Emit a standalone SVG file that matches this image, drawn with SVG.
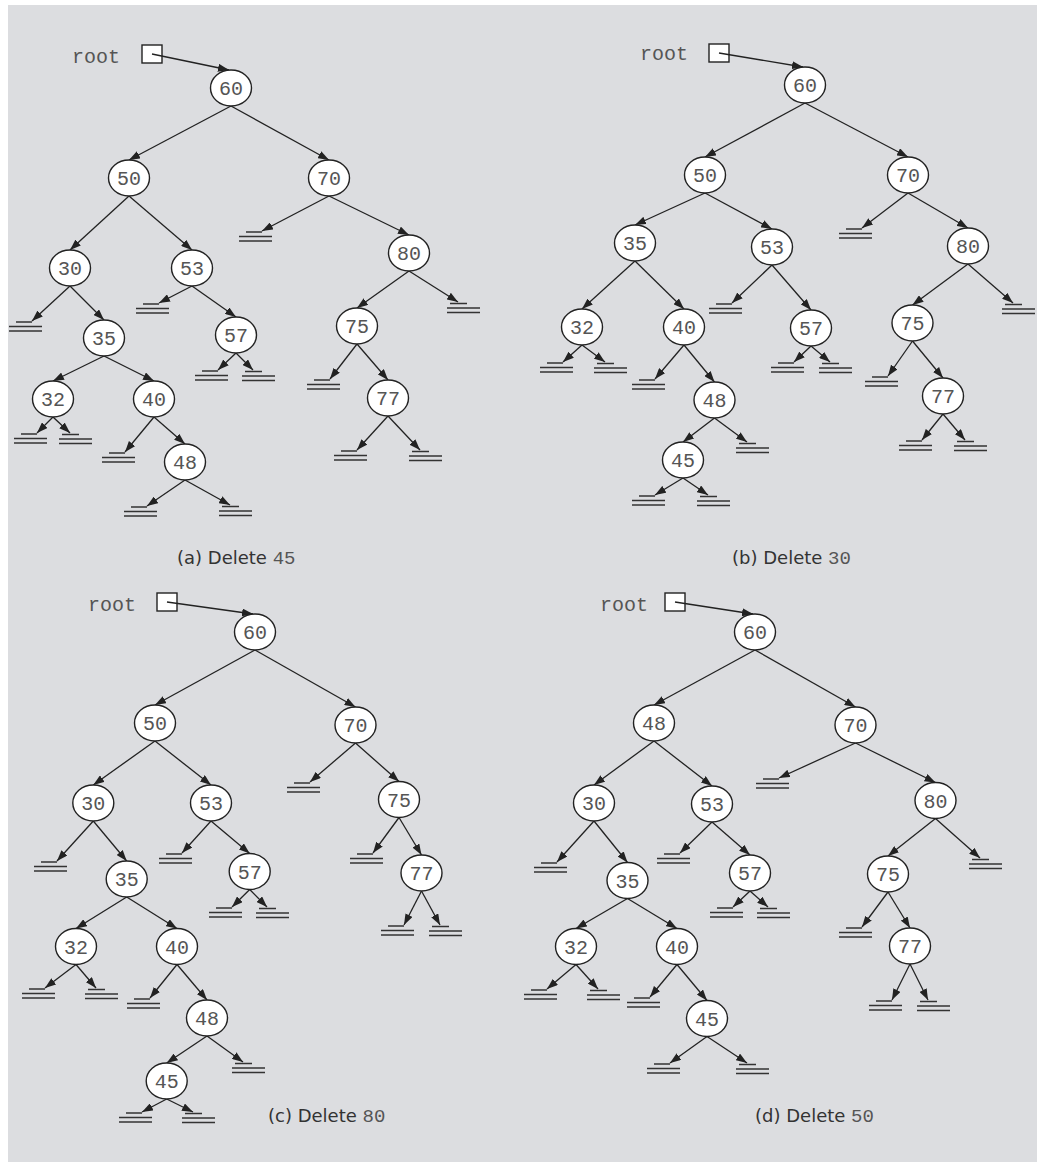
<svg xmlns="http://www.w3.org/2000/svg" xmlns:xlink="http://www.w3.org/1999/xlink" width="1037" height="1169" viewBox="0 0 1037 1169">
<style>
.n{fill:#fff;stroke:#222;stroke-width:1.4}
.t{font-family:"Liberation Mono",monospace;font-size:20px;fill:#555;text-anchor:middle}
.r{font-family:"Liberation Mono",monospace;font-size:20px;fill:#555}
.e line{stroke:#222;stroke-width:1.3;marker-end:url(#ah)}
.gd{fill:none;stroke:#333;stroke-width:1.6}
.bx{fill:#fff;stroke:#222;stroke-width:1.4}
.cap{font-family:"DejaVu Sans","Liberation Sans",sans-serif;font-size:18px;fill:#333}
.cm{font-family:"Liberation Mono",monospace;font-size:19px;fill:#555}
</style>
<defs>
<marker id="ah" markerUnits="userSpaceOnUse" markerWidth="11" markerHeight="8" refX="11" refY="4" orient="auto"><path d="M0,0L11,4L0,8z" fill="#222"/></marker>
<path id="gl" class="gd" d="M-16,1H0M-23,5.5H10M-23,10H10"/>
<path id="gr" class="gd" d="M-8,1.5H9M-11,6H22M-11,10.5H22"/>
</defs>
<rect x="0" y="0" width="1037" height="1169" fill="#fff"/>
<rect x="8" y="5" width="1029" height="1157" fill="#dcdde0"/>

<g id="roots">
<text class="r" x="72" y="63">root</text><rect class="bx" x="142" y="45" width="20" height="18"/>
<text class="r" x="640" y="60">root</text><rect class="bx" x="709" y="44" width="20" height="18"/>
<text class="r" x="88" y="611">root</text><rect class="bx" x="157" y="593" width="20" height="18"/>
<text class="r" x="600" y="611">root</text><rect class="bx" x="665" y="593" width="20" height="18"/>
</g>

<g id="connectors" class="e">
<!-- tree a -->
<line x1="152" y1="54" x2="229" y2="70"/>
<line x1="231" y1="106" x2="129" y2="160"/>
<line x1="231" y1="106" x2="329" y2="160"/>
<line x1="129" y1="196" x2="70" y2="250"/>
<line x1="129" y1="196" x2="192" y2="250"/>
<line x1="329" y1="196" x2="262" y2="231"/>
<line x1="329" y1="196" x2="409" y2="235"/>
<line x1="70" y1="286" x2="32" y2="321"/>
<line x1="70" y1="286" x2="104" y2="320"/>
<line x1="192" y1="286" x2="159" y2="303"/>
<line x1="192" y1="286" x2="236" y2="317"/>
<line x1="409" y1="271" x2="357" y2="308"/>
<line x1="409" y1="271" x2="458" y2="302"/>
<line x1="104" y1="356" x2="53" y2="381"/>
<line x1="104" y1="356" x2="154" y2="381"/>
<line x1="236" y1="353" x2="218" y2="370"/>
<line x1="236" y1="353" x2="253" y2="370"/>
<line x1="357" y1="344" x2="330" y2="379"/>
<line x1="357" y1="344" x2="388" y2="380"/>
<line x1="53" y1="417" x2="37" y2="433"/>
<line x1="53" y1="417" x2="70" y2="433"/>
<line x1="154" y1="417" x2="125" y2="452"/>
<line x1="154" y1="417" x2="185" y2="444"/>
<line x1="388" y1="416" x2="357" y2="450"/>
<line x1="388" y1="416" x2="420" y2="450"/>
<line x1="185" y1="480" x2="147" y2="506"/>
<line x1="185" y1="480" x2="230" y2="505"/>
<!-- tree b -->
<line x1="719" y1="53" x2="803" y2="67"/>
<line x1="805" y1="103" x2="705" y2="157"/>
<line x1="805" y1="103" x2="908" y2="157"/>
<line x1="705" y1="193" x2="635" y2="225"/>
<line x1="705" y1="193" x2="772" y2="229"/>
<line x1="908" y1="193" x2="862" y2="228"/>
<line x1="908" y1="193" x2="968" y2="228"/>
<line x1="635" y1="261" x2="582" y2="309"/>
<line x1="635" y1="261" x2="684" y2="309"/>
<line x1="772" y1="265" x2="732" y2="303"/>
<line x1="772" y1="265" x2="811" y2="310"/>
<line x1="968" y1="264" x2="912.5" y2="305"/>
<line x1="968" y1="264" x2="1013" y2="303"/>
<line x1="582" y1="345" x2="563" y2="362"/>
<line x1="582" y1="345" x2="605" y2="362"/>
<line x1="684" y1="345" x2="655" y2="379"/>
<line x1="684" y1="345" x2="714.5" y2="382"/>
<line x1="811" y1="346" x2="794" y2="362"/>
<line x1="811" y1="346" x2="830" y2="362"/>
<line x1="912.5" y1="341" x2="888" y2="376"/>
<line x1="912.5" y1="341" x2="943" y2="378"/>
<line x1="714.5" y1="418" x2="683" y2="442"/>
<line x1="714.5" y1="418" x2="747" y2="442"/>
<line x1="943" y1="414" x2="922" y2="440"/>
<line x1="943" y1="414" x2="965" y2="440"/>
<line x1="683" y1="478" x2="655" y2="495"/>
<line x1="683" y1="478" x2="708" y2="495"/>
<!-- tree c -->
<line x1="167" y1="602" x2="253" y2="614"/>
<line x1="255" y1="650" x2="155" y2="705"/>
<line x1="255" y1="650" x2="355.5" y2="707"/>
<line x1="155" y1="741" x2="93.3" y2="785"/>
<line x1="155" y1="741" x2="211" y2="785"/>
<line x1="355.5" y1="743" x2="310" y2="782"/>
<line x1="355.5" y1="743" x2="399" y2="781.5"/>
<line x1="93.3" y1="821" x2="57" y2="861"/>
<line x1="93.3" y1="821" x2="126.7" y2="861"/>
<line x1="211" y1="821" x2="182" y2="853"/>
<line x1="211" y1="821" x2="249.7" y2="853.5"/>
<line x1="399" y1="817.5" x2="373" y2="853"/>
<line x1="399" y1="817.5" x2="421.5" y2="855"/>
<line x1="126.7" y1="897" x2="76" y2="928.5"/>
<line x1="126.7" y1="897" x2="177" y2="928.5"/>
<line x1="249.7" y1="889.5" x2="232" y2="907"/>
<line x1="249.7" y1="889.5" x2="267" y2="907"/>
<line x1="421.5" y1="891" x2="404" y2="925"/>
<line x1="421.5" y1="891" x2="440" y2="925"/>
<line x1="76" y1="964.5" x2="45" y2="988"/>
<line x1="76" y1="964.5" x2="96" y2="988"/>
<line x1="177" y1="964.5" x2="150" y2="998"/>
<line x1="177" y1="964.5" x2="207" y2="1000"/>
<line x1="207" y1="1036" x2="166.7" y2="1063"/>
<line x1="207" y1="1036" x2="243" y2="1062"/>
<line x1="166.7" y1="1099" x2="142" y2="1112"/>
<line x1="166.7" y1="1099" x2="193" y2="1112"/>
<!-- tree d -->
<line x1="675" y1="602" x2="753" y2="614"/>
<line x1="755" y1="650" x2="654" y2="705"/>
<line x1="755" y1="650" x2="855.5" y2="707"/>
<line x1="654" y1="741" x2="594" y2="785"/>
<line x1="654" y1="741" x2="712" y2="786"/>
<line x1="855.5" y1="743" x2="779" y2="778"/>
<line x1="855.5" y1="743" x2="935.5" y2="782.5"/>
<line x1="594" y1="821" x2="557" y2="862"/>
<line x1="594" y1="821" x2="627.5" y2="862.5"/>
<line x1="712" y1="822" x2="680" y2="853"/>
<line x1="712" y1="822" x2="750" y2="855"/>
<line x1="935.5" y1="818.5" x2="888" y2="856"/>
<line x1="935.5" y1="818.5" x2="980" y2="858"/>
<line x1="627.5" y1="898.5" x2="576" y2="928.5"/>
<line x1="627.5" y1="898.5" x2="677" y2="928.5"/>
<line x1="750" y1="891" x2="733" y2="907"/>
<line x1="750" y1="891" x2="768" y2="907"/>
<line x1="888" y1="892" x2="862" y2="927"/>
<line x1="888" y1="892" x2="910" y2="928"/>
<line x1="576" y1="964.5" x2="547" y2="989"/>
<line x1="576" y1="964.5" x2="598" y2="989"/>
<line x1="677" y1="964.5" x2="650" y2="997"/>
<line x1="677" y1="964.5" x2="707" y2="1000.5"/>
<line x1="910" y1="964" x2="892" y2="1000"/>
<line x1="910" y1="964" x2="928" y2="1000"/>
<line x1="707" y1="1036.5" x2="670" y2="1063"/>
<line x1="707" y1="1036.5" x2="747" y2="1063"/>
</g>

<g id="grounds">
<use xlink:href="#gl" x="32" y="321"/><use xlink:href="#gl" x="159" y="303"/><use xlink:href="#gl" x="262" y="231"/><use xlink:href="#gr" x="458" y="302"/>
<use xlink:href="#gl" x="218" y="370"/><use xlink:href="#gr" x="253" y="370"/><use xlink:href="#gl" x="330" y="379"/>
<use xlink:href="#gl" x="37" y="433"/><use xlink:href="#gr" x="70" y="433"/><use xlink:href="#gl" x="125" y="452"/>
<use xlink:href="#gl" x="357" y="450"/><use xlink:href="#gr" x="420" y="450"/><use xlink:href="#gl" x="147" y="506"/><use xlink:href="#gr" x="230" y="505"/>

<use xlink:href="#gl" x="862" y="228"/><use xlink:href="#gl" x="732" y="303"/><use xlink:href="#gr" x="1013" y="303"/>
<use xlink:href="#gl" x="563" y="362"/><use xlink:href="#gr" x="605" y="362"/><use xlink:href="#gl" x="794" y="362"/><use xlink:href="#gr" x="830" y="362"/>
<use xlink:href="#gl" x="655" y="379"/><use xlink:href="#gl" x="888" y="376"/><use xlink:href="#gr" x="747" y="442"/>
<use xlink:href="#gl" x="922" y="440"/><use xlink:href="#gr" x="965" y="440"/><use xlink:href="#gl" x="655" y="495"/><use xlink:href="#gr" x="708" y="495"/>

<use xlink:href="#gl" x="310" y="782"/><use xlink:href="#gl" x="57" y="861"/><use xlink:href="#gl" x="182" y="853"/><use xlink:href="#gl" x="373" y="853"/>
<use xlink:href="#gl" x="232" y="907"/><use xlink:href="#gr" x="267" y="907"/><use xlink:href="#gl" x="404" y="925"/><use xlink:href="#gr" x="440" y="925"/>
<use xlink:href="#gl" x="45" y="988"/><use xlink:href="#gr" x="96" y="988"/><use xlink:href="#gl" x="150" y="998"/><use xlink:href="#gr" x="243" y="1062"/>
<use xlink:href="#gl" x="142" y="1112"/><use xlink:href="#gr" x="193" y="1112"/>

<use xlink:href="#gl" x="779" y="778"/><use xlink:href="#gl" x="557" y="862"/><use xlink:href="#gl" x="680" y="853"/><use xlink:href="#gr" x="980" y="858"/>
<use xlink:href="#gl" x="733" y="907"/><use xlink:href="#gr" x="768" y="907"/><use xlink:href="#gl" x="862" y="927"/>
<use xlink:href="#gl" x="547" y="989"/><use xlink:href="#gr" x="598" y="989"/><use xlink:href="#gl" x="650" y="997"/>
<use xlink:href="#gl" x="892" y="1000"/><use xlink:href="#gr" x="928" y="1000"/><use xlink:href="#gl" x="670" y="1063"/><use xlink:href="#gr" x="747" y="1063"/>
</g>

<g id="tree-a">
<g id="a60"><ellipse class="n" cx="231" cy="88" rx="20.5" ry="18"/><text class="t" x="231" y="95">60</text></g>
<g id="a50"><ellipse class="n" cx="129" cy="178" rx="20.5" ry="18"/><text class="t" x="129" y="185">50</text></g>
<g id="a70"><ellipse class="n" cx="329" cy="178" rx="20.5" ry="18"/><text class="t" x="329" y="185">70</text></g>
<g id="a30"><ellipse class="n" cx="70" cy="268" rx="20.5" ry="18"/><text class="t" x="70" y="275">30</text></g>
<g id="a53"><ellipse class="n" cx="192" cy="268" rx="20.5" ry="18"/><text class="t" x="192" y="275">53</text></g>
<g id="a80"><ellipse class="n" cx="409" cy="253" rx="20.5" ry="18"/><text class="t" x="409" y="260">80</text></g>
<g id="a35"><ellipse class="n" cx="104" cy="338" rx="20.5" ry="18"/><text class="t" x="104" y="345">35</text></g>
<g id="a57"><ellipse class="n" cx="236" cy="335" rx="20.5" ry="18"/><text class="t" x="236" y="342">57</text></g>
<g id="a75"><ellipse class="n" cx="357" cy="326" rx="20.5" ry="18"/><text class="t" x="357" y="333">75</text></g>
<g id="a32"><ellipse class="n" cx="53" cy="399" rx="20.5" ry="18"/><text class="t" x="53" y="406">32</text></g>
<g id="a40"><ellipse class="n" cx="154" cy="399" rx="20.5" ry="18"/><text class="t" x="154" y="406">40</text></g>
<g id="a77"><ellipse class="n" cx="388" cy="398" rx="20.5" ry="18"/><text class="t" x="388" y="405">77</text></g>
<g id="a48"><ellipse class="n" cx="185" cy="462" rx="20.5" ry="18"/><text class="t" x="185" y="469">48</text></g>
</g>

<g id="tree-b">
<g id="b60"><ellipse class="n" cx="805" cy="85" rx="20.5" ry="18"/><text class="t" x="805" y="92">60</text></g>
<g id="b50"><ellipse class="n" cx="705" cy="175" rx="20.5" ry="18"/><text class="t" x="705" y="182">50</text></g>
<g id="b70"><ellipse class="n" cx="908" cy="175" rx="20.5" ry="18"/><text class="t" x="908" y="182">70</text></g>
<g id="b35"><ellipse class="n" cx="635" cy="243" rx="20.5" ry="18"/><text class="t" x="635" y="250">35</text></g>
<g id="b53"><ellipse class="n" cx="772" cy="247" rx="20.5" ry="18"/><text class="t" x="772" y="254">53</text></g>
<g id="b80"><ellipse class="n" cx="968" cy="246" rx="20.5" ry="18"/><text class="t" x="968" y="253">80</text></g>
<g id="b32"><ellipse class="n" cx="582" cy="327" rx="20.5" ry="18"/><text class="t" x="582" y="334">32</text></g>
<g id="b40"><ellipse class="n" cx="684" cy="327" rx="20.5" ry="18"/><text class="t" x="684" y="334">40</text></g>
<g id="b57"><ellipse class="n" cx="811" cy="328" rx="20.5" ry="18"/><text class="t" x="811" y="335">57</text></g>
<g id="b75"><ellipse class="n" cx="912.5" cy="323" rx="20.5" ry="18"/><text class="t" x="912.5" y="330">75</text></g>
<g id="b48"><ellipse class="n" cx="714.5" cy="400" rx="20.5" ry="18"/><text class="t" x="714.5" y="407">48</text></g>
<g id="b77"><ellipse class="n" cx="943" cy="396" rx="20.5" ry="18"/><text class="t" x="943" y="403">77</text></g>
<g id="b45"><ellipse class="n" cx="683" cy="460" rx="20.5" ry="18"/><text class="t" x="683" y="467">45</text></g>
</g>

<g id="tree-c">
<g id="c60"><ellipse class="n" cx="255" cy="632" rx="20.5" ry="18"/><text class="t" x="255" y="639">60</text></g>
<g id="c50"><ellipse class="n" cx="155" cy="723" rx="20.5" ry="18"/><text class="t" x="155" y="730">50</text></g>
<g id="c70"><ellipse class="n" cx="355.5" cy="725" rx="20.5" ry="18"/><text class="t" x="355.5" y="732">70</text></g>
<g id="c30"><ellipse class="n" cx="93.3" cy="803" rx="20.5" ry="18"/><text class="t" x="93.3" y="810">30</text></g>
<g id="c53"><ellipse class="n" cx="211" cy="803" rx="20.5" ry="18"/><text class="t" x="211" y="810">53</text></g>
<g id="c75"><ellipse class="n" cx="399" cy="799.5" rx="20.5" ry="18"/><text class="t" x="399" y="806.5">75</text></g>
<g id="c35"><ellipse class="n" cx="126.7" cy="879" rx="20.5" ry="18"/><text class="t" x="126.7" y="886">35</text></g>
<g id="c57"><ellipse class="n" cx="249.7" cy="871.5" rx="20.5" ry="18"/><text class="t" x="249.7" y="878.5">57</text></g>
<g id="c77"><ellipse class="n" cx="421.5" cy="873" rx="20.5" ry="18"/><text class="t" x="421.5" y="880">77</text></g>
<g id="c32"><ellipse class="n" cx="76" cy="946.5" rx="20.5" ry="18"/><text class="t" x="76" y="953.5">32</text></g>
<g id="c40"><ellipse class="n" cx="177" cy="946.5" rx="20.5" ry="18"/><text class="t" x="177" y="953.5">40</text></g>
<g id="c48"><ellipse class="n" cx="207" cy="1018" rx="20.5" ry="18"/><text class="t" x="207" y="1025">48</text></g>
<g id="c45"><ellipse class="n" cx="166.7" cy="1081" rx="20.5" ry="18"/><text class="t" x="166.7" y="1088">45</text></g>
</g>

<g id="tree-d">
<g id="d60"><ellipse class="n" cx="755" cy="632" rx="20.5" ry="18"/><text class="t" x="755" y="639">60</text></g>
<g id="d48"><ellipse class="n" cx="654" cy="723" rx="20.5" ry="18"/><text class="t" x="654" y="730">48</text></g>
<g id="d70"><ellipse class="n" cx="855.5" cy="725" rx="20.5" ry="18"/><text class="t" x="855.5" y="732">70</text></g>
<g id="d30"><ellipse class="n" cx="594" cy="803" rx="20.5" ry="18"/><text class="t" x="594" y="810">30</text></g>
<g id="d53"><ellipse class="n" cx="712" cy="804" rx="20.5" ry="18"/><text class="t" x="712" y="811">53</text></g>
<g id="d80"><ellipse class="n" cx="935.5" cy="800.5" rx="20.5" ry="18"/><text class="t" x="935.5" y="807.5">80</text></g>
<g id="d35"><ellipse class="n" cx="627.5" cy="880.5" rx="20.5" ry="18"/><text class="t" x="627.5" y="887.5">35</text></g>
<g id="d57"><ellipse class="n" cx="750" cy="873" rx="20.5" ry="18"/><text class="t" x="750" y="880">57</text></g>
<g id="d75"><ellipse class="n" cx="888" cy="874" rx="20.5" ry="18"/><text class="t" x="888" y="881">75</text></g>
<g id="d32"><ellipse class="n" cx="576" cy="946.5" rx="20.5" ry="18"/><text class="t" x="576" y="953.5">32</text></g>
<g id="d40"><ellipse class="n" cx="677" cy="946.5" rx="20.5" ry="18"/><text class="t" x="677" y="953.5">40</text></g>
<g id="d77"><ellipse class="n" cx="910" cy="946" rx="20.5" ry="18"/><text class="t" x="910" y="953">77</text></g>
<g id="d45"><ellipse class="n" cx="707" cy="1018.5" rx="20.5" ry="18"/><text class="t" x="707" y="1025.5">45</text></g>
</g>

<g id="captions">
<text class="cap" x="177" y="564">(a) Delete <tspan class="cm">45</tspan></text>
<text class="cap" x="732" y="564">(b) Delete <tspan class="cm">30</tspan></text>
<text class="cap" x="268" y="1122">(c) Delete <tspan class="cm">80</tspan></text>
<text class="cap" x="755" y="1122">(d) Delete <tspan class="cm">50</tspan></text>
</g>
</svg>
